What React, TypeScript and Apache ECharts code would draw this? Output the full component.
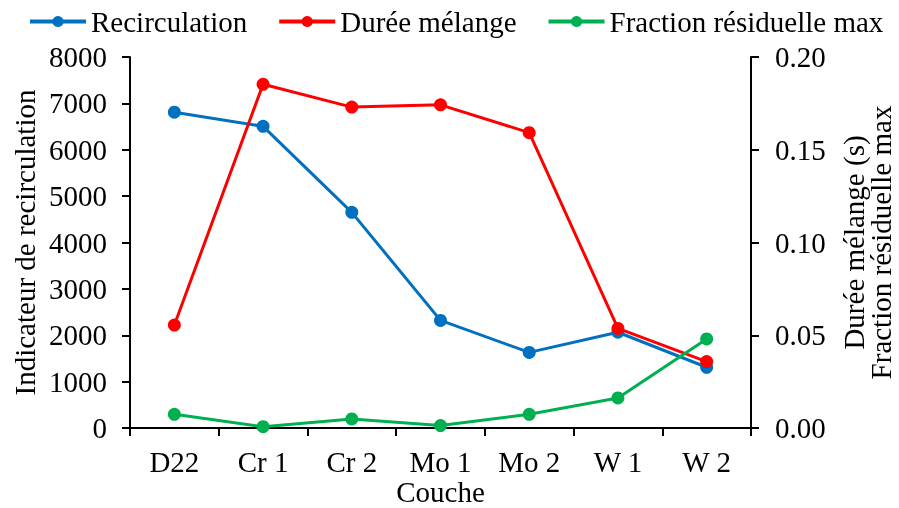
import React, { useEffect, useRef } from "react";
import * as echarts from "echarts";

const categories = ["D22", "Cr 1", "Cr 2", "Mo 1", "Mo 2", "W 1", "W 2"];
const recirculation = [6810, 6505, 4650, 2320, 1630, 2065, 1310];
const dureeMelange = [0.0555, 0.1853, 0.173, 0.1742, 0.1592, 0.0537, 0.0358];
const fractionResiduelle = [0.0074, 0.0007, 0.0049, 0.0013, 0.0074, 0.0162, 0.048];

const FONT = "'Liberation Serif', 'Times New Roman', serif";

export default function App() {
  const ref = useRef<HTMLDivElement>(null);
  useEffect(() => {
    if (!ref.current) return;
    const chart = echarts.init(ref.current, null, { renderer: "svg" });
    const axisLine = { show: true, lineStyle: { color: "#000", width: 2 } };
    const axisTick = { show: true, length: 8, lineStyle: { color: "#000", width: 2 } };
    const txt = { fontFamily: FONT, fontSize: 29, color: "#000" };
    chart.setOption({
      animation: false,
      textStyle: { fontFamily: FONT },
      legend: {
        top: 2,
        left: 23,
        itemWidth: 56,
        itemHeight: 14,
        itemGap: 30,
        textStyle: { ...txt },
        lineStyle: { width: 4 },
        data: ["Recirculation", "Durée mélange", "Fraction résiduelle max"],
      },
      grid: {
        left: 130,
        right: 148,
        top: 57,
        bottom: 80,
        containLabel: false,
        outerBoundsMode: "none",
      },
      xAxis: {
        type: "category",
        data: categories,
        boundaryGap: true,
        axisLine,
        axisTick: { ...axisTick, alignWithLabel: false },
        axisLabel: { ...txt, margin: 19, lineHeight: 29 },
        name: "Couche",
        nameLocation: "middle",
        nameGap: 50,
        nameMoveOverlap: false,
        nameTextStyle: { ...txt, lineHeight: 27 },
        splitLine: { show: false },
      },
      yAxis: [
        {
          type: "value",
          min: 0,
          max: 8000,
          interval: 1000,
          position: "left",
          axisLine,
          axisTick,
          axisLabel: { ...txt, margin: 23, formatter: (v: number) => String(v) },
          splitLine: { show: false },
          name: "Indicateur de recirculation",
          nameLocation: "middle",
          nameGap: 91,
          nameRotate: 90,
          nameMoveOverlap: false,
          nameTextStyle: txt,
        },
        {
          type: "value",
          min: 0,
          max: 0.2,
          interval: 0.05,
          position: "right",
          axisLine,
          axisTick,
          axisLabel: { ...txt, margin: 24, formatter: (v: number) => v.toFixed(2) },
          splitLine: { show: false },
          name: "Durée mélange (s)\nFraction résiduelle max",
          nameLocation: "middle",
          nameGap: 89,
          nameRotate: 90,
          nameMoveOverlap: false,
          nameTextStyle: { ...txt, lineHeight: 27 },
        },
      ],
      series: [
        {
          name: "Recirculation",
          type: "line",
          yAxisIndex: 0,
          data: recirculation,
          color: "#0070C0",
          symbol: "circle",
          symbolSize: 13,
          lineStyle: { width: 3 },
        },
        {
          name: "Durée mélange",
          type: "line",
          yAxisIndex: 1,
          data: dureeMelange,
          color: "#FF0000",
          symbol: "circle",
          symbolSize: 13,
          lineStyle: { width: 3 },
        },
        {
          name: "Fraction résiduelle max",
          type: "line",
          yAxisIndex: 1,
          data: fractionResiduelle,
          color: "#00B050",
          symbol: "circle",
          symbolSize: 13,
          lineStyle: { width: 3 },
        },
      ],
    });
    return () => chart.dispose();
  }, []);
  return (
    <div
      ref={ref}
      style={{ position: "fixed", left: 0, top: 0, width: 899, height: 508 }}
    />
  );
}
